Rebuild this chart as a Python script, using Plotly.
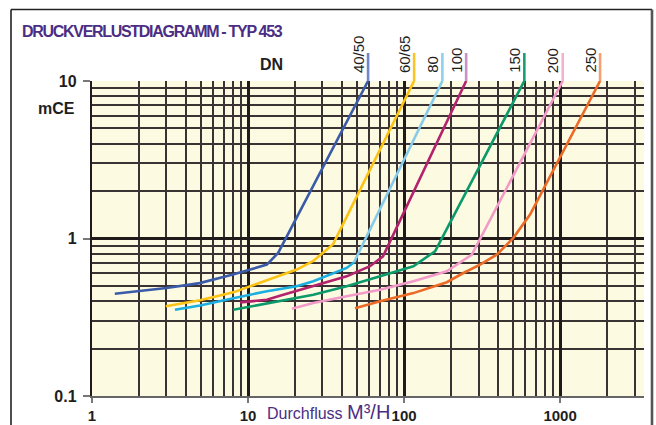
import math
import plotly.graph_objects as go

# Flow rate (m3/h) and pressure loss (mCE) per nominal size
q_4050 = [1.40, 3.0, 4.9, 8.0, 13.2, 15.6, 58.8]
h_4050 = [0.446, 0.485, 0.521, 0.59, 0.683, 0.81, 10]

q_6065 = [2.97, 4.92, 8.05, 13.2, 20.5, 26.2, 35.1, 116]
h_6065 = [0.371, 0.405, 0.455, 0.54, 0.635, 0.72, 0.92, 10]

q_80_low = [3.40, 4.92, 8.05, 13.2, 20.5, 26.2, 42.9, 47.8]
h_80_low = [0.353, 0.376, 0.418, 0.462, 0.497, 0.535, 0.65, 0.706]
q_80_high = [47.8, 176]
h_80_high = [0.706, 10]

q_100 = [8.9, 13.2, 16, 26.2, 42.9, 60.5, 73.3, 250]
h_100 = [0.393, 0.408, 0.433, 0.497, 0.575, 0.667, 0.77, 10]

q_150 = [8.05, 16, 26.2, 42.9, 70.2, 114.7, 158, 590]
h_150 = [0.353, 0.403, 0.44, 0.497, 0.575, 0.667, 0.83, 10]

q_200 = [19.1, 26.2, 42.9, 70.2, 114.7, 187.8, 272, 1040]
h_200 = [0.358, 0.389, 0.43, 0.473, 0.535, 0.619, 0.79, 10]

q_250 = [48.5, 70.2, 114.7, 188, 240, 307, 393, 502, 642, 1804]
h_250 = [0.361, 0.399, 0.45, 0.528, 0.604, 0.683, 0.79, 1.01, 1.42, 10]

size_labels = ["40/50", "60/65", "80", "100", "150", "200", "250"]

x_ticks = [1, 10, 100, 1000]
x_tick_labels = ["1", "10", "100", "1000"]
y_ticks = [0.1, 1, 10]
y_tick_labels = ["0.1", "1", "10"]

# (flow, loss, colour) for each drawn segment
segments = [
    (q_4050, h_4050, "#3A5BA8"),
    (q_6065, h_6065, "#FBC314"),
    (q_80_low, h_80_low, "#1AAFE0"),
    (q_80_high, h_80_high, "#86CBEA"),
    (q_100, h_100, "#B3226C"),
    (q_150, h_150, "#0D9A6B"),
    (q_200, h_200, "#F29BC9"),
    (q_250, h_250, "#EC6A25"),
]
# top end of each size curve and its lead colour
lead_ends = [q_4050[-1], q_6065[-1], q_80_high[-1], q_100[-1], q_150[-1], q_200[-1], q_250[-1]]
lead_colors = ["#6F86C8", "#FAC426", "#8FD0EE", "#C892C6", "#1A9E70", "#F5B0D4", "#F4A070"]

W, H = 656, 425
ML, MR, MT, MB = 92, 12, 81, 29
PW, PH = W - ML - MR, H - MT - MB


def px(xp):
    return (xp - ML) / PW


def py(yp):
    return (H - MB - yp) / PH


fig = go.Figure()
for q, h, c in segments:
    fig.add_trace(go.Scatter(x=q, y=h, mode="lines", line=dict(color=c, width=2.6),
                             showlegend=False, hoverinfo="skip"))

shapes = []
annotations = []
for qe, lab, lc in zip(lead_ends, size_labels, lead_colors):
    shapes.append(dict(type="line", xref="x", yref="paper", x0=qe, x1=qe,
                       y0=1, y1=py(53), line=dict(color=lc, width=2.6)))
    annotations.append(dict(x=math.log10(qe), xref="x", y=1, yref="paper",
                            xanchor="center", yanchor="bottom", xshift=-10, yshift=6,
                            text=lab, textangle=-90, showarrow=False,
                            font=dict(family="Liberation Sans, Arial, sans-serif",
                                      size=15, color="#1E1E1E")))

# outer frame
shapes += [
    dict(type="line", xref="paper", yref="paper", x0=px(11), x1=px(11), y0=py(440), y1=py(9.5),
         line=dict(color="#222", width=1.6)),
    dict(type="line", xref="paper", yref="paper", x0=px(11), x1=px(652), y0=py(9.5), y1=py(9.5),
         line=dict(color="#222", width=1.6)),
    dict(type="line", xref="paper", yref="paper", x0=px(652), x1=px(652), y0=py(9.5), y1=py(440),
         line=dict(color="#555", width=2.6)),
]

purple = "#4B2E83"
annotations += [
    dict(text="<b><span style='letter-spacing:-1.3px'>DRUCKVERLUSTDIAGRAMM - TYP 453</span></b>",
         xref="paper", yref="paper",
         x=px(20), y=py(31.7), xanchor="left", yanchor="middle", showarrow=False,
         font=dict(family="Liberation Sans, Arial, sans-serif", size=16, color=purple)),
    dict(text="<b>DN</b>", xref="paper", yref="paper", x=px(271), y=py(65),
         xanchor="center", yanchor="middle", showarrow=False,
         font=dict(family="Liberation Sans, Arial, sans-serif", size=16, color="#1E1E1E")),
    dict(text="<b>mCE</b>", xref="paper", yref="paper", x=px(77), y=py(108.5),
         xanchor="right", yanchor="middle", showarrow=False,
         font=dict(family="Liberation Sans, Arial, sans-serif", size=16, color="#1E1E1E")),
    dict(text="Durchfluss <span style='font-size:20px'>M³/H</span>", xref="paper", yref="paper",
         x=px(265), y=py(412), xanchor="left", yanchor="middle", showarrow=False,
         font=dict(family="Liberation Sans, Arial, sans-serif", size=16, color=purple)),
]

x_minor = [d * 10 ** k for k in range(0, 4) for d in range(2, 10) if d * 10 ** k < 3500]
y_minor = [d * 10 ** k for k in (-1, 0) for d in range(2, 10)]

font_family = "Liberation Sans, Arial, sans-serif"
x_tickfont = dict(family=font_family, size=15, color="#1E1E1E", weight="bold")
y_tickfont = dict(family=font_family, size=16, color="#1E1E1E", weight="bold")
grid_major = "#211A1A"
grid_minor = "#3B3333"

fig.update_xaxes(type="log", range=[0, math.log10(3450)], tickmode="array", automargin=False,
                 tickvals=x_ticks, ticktext=x_tick_labels, ticks="outside", ticklen=5,
                 tickcolor="#777", tickwidth=1.5, showgrid=True, gridcolor=grid_major,
                 gridwidth=2.6, zeroline=False, showline=True, linecolor="#666",
                 linewidth=1.5, tickfont=x_tickfont, ticklabelstandoff=0,
                 minor=dict(tickmode="array", tickvals=x_minor, showgrid=True,
                            gridcolor=grid_minor, gridwidth=1.9, ticks=""))
fig.update_yaxes(type="log", range=[-1, 1], tickmode="array", automargin=False,
                 tickvals=y_ticks, ticktext=y_tick_labels, ticks="outside", ticklen=7,
                 tickcolor="#777", tickwidth=1.5, showgrid=True, gridcolor=grid_major,
                 gridwidth=2.6, zeroline=False, showline=True, linecolor="#211A1A",
                 linewidth=2.4, tickfont=y_tickfont, ticklabelstandoff=3,
                 minor=dict(tickmode="array", tickvals=y_minor, showgrid=True,
                            gridcolor=grid_minor, gridwidth=1.9, ticks=""))

fig.update_layout(width=W, height=H, margin=dict(l=ML, r=MR, t=MT, b=MB),
                  paper_bgcolor="white", plot_bgcolor="#FDFAE2",
                  shapes=shapes, annotations=annotations)

fig.write_html("out.html")
